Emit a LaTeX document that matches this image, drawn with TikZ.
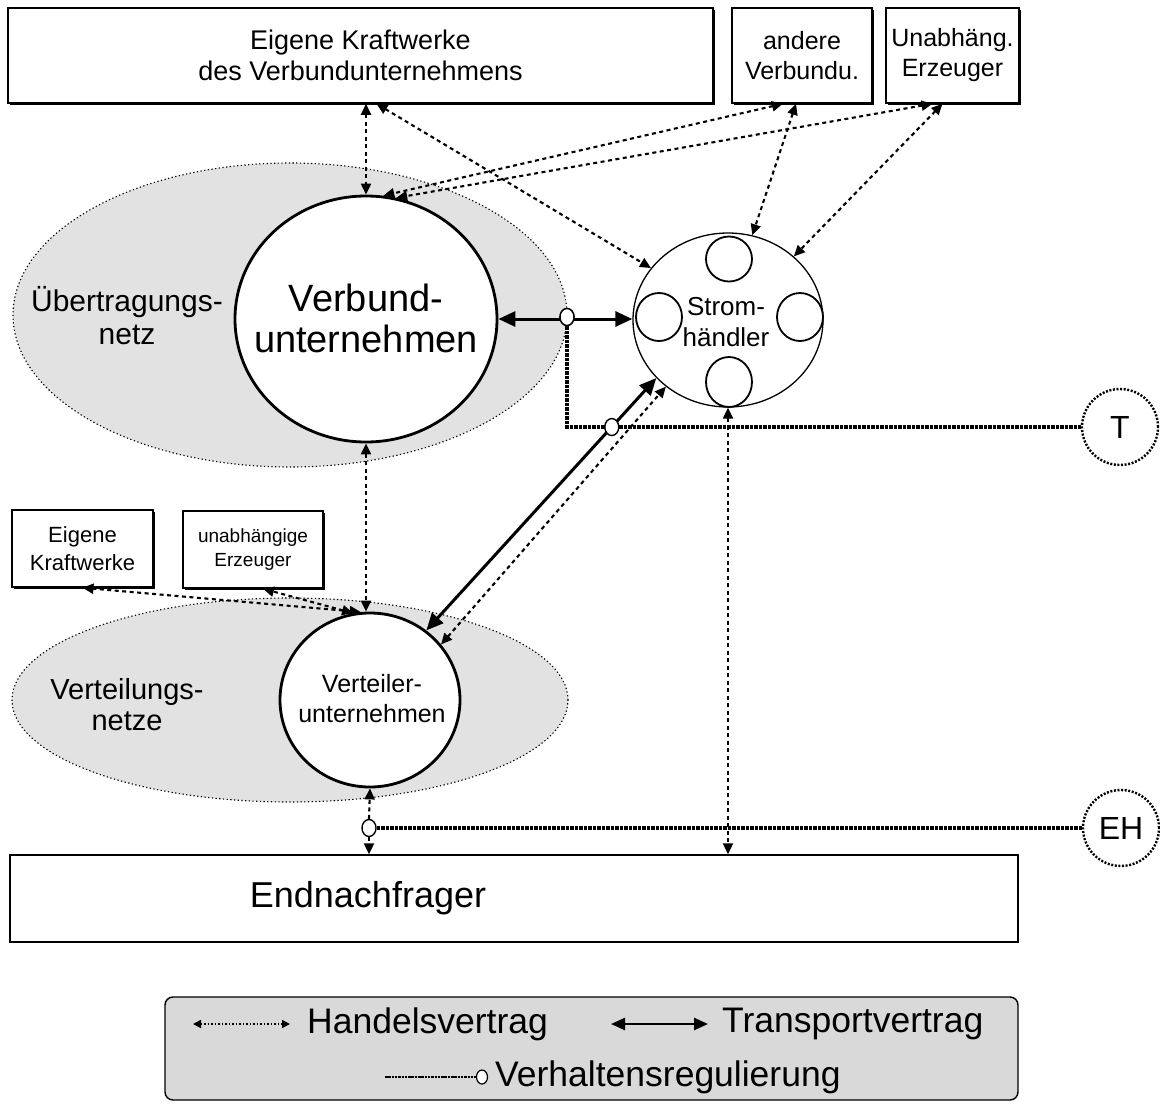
\documentclass[tikz,border=0pt]{standalone}
\usepackage{fontspec}
\setmainfont{Liberation Sans}
\usetikzlibrary{arrows.meta,shapes.geometric,shadows,calc}
\newcommand\fsz[2]{\fontsize{#1}{#2}\selectfont}
\definecolor{netzgray}{RGB}{226,226,226}
\definecolor{leggray}{RGB}{217,217,217}
\begin{document}
\begin{tikzpicture}[x=1pt,y=-1pt,
  boxnode/.style={draw,line width=1.5pt,fill=white,inner sep=0pt,align=center,
    drop shadow={shadow xshift=2pt,shadow yshift=-2pt,opacity=1,fill=black}},
  netz/.style={ellipse,fill=netzgray,draw,line width=1.1pt,dash pattern=on 1.3pt off 2.4pt,inner sep=0pt},
  bigcirc/.style={ellipse,draw,fill=white,line width=2.8pt,inner sep=0pt},
  smallell/.style={ellipse,draw,line width=1.8pt,inner sep=0pt,minimum width=46pt},
  regcirc/.style={circle,draw,fill=white,line width=2.4pt,dash pattern=on 2pt off 1.6pt,inner sep=0pt,minimum size=76pt},
  regdot/.style={ellipse,draw,fill=white,line width=1.4pt,inner sep=0pt,minimum width=14pt,minimum height=17pt},
  handel/.style={line width=2.1pt,dash pattern=on 4pt off 3.5pt,
    {Triangle[length=11pt,width=10pt]}-{Triangle[length=11pt,width=10pt]}},
  handelone/.style={line width=2.1pt,dash pattern=on 4pt off 3.5pt,-{Triangle[length=11pt,width=10pt]}},
  transport/.style={line width=3pt,{Triangle[length=17pt,width=15pt]}-{Triangle[length=17pt,width=15pt]}},
  reg/.style={line width=3.2pt,dash pattern=on 3.5pt off 1pt},
  lbl/.style={inner sep=0pt,align=center}
]
\useasboundingbox (0,0) rectangle (1160,1111);

% network areas
\node[netz,minimum width=554pt,minimum height=304pt] (ueb) at (290,315) {};
\node[netz,minimum width=556pt,minimum height=204pt] (vnetz) at (290,700) {};

% top boxes
\node[boxnode,minimum width=705pt,minimum height=95pt,font=\fsz{27}{31}] (big) at (360.5,55.5)
  {Eigene Kraftwerke\\des Verbundunternehmens};
\node[boxnode,minimum width=140pt,minimum height=95pt,font=\fsz{25}{30}] (andere) at (802,55.5)
  {andere\\Verbundu.};
\node[boxnode,minimum width=133pt,minimum height=95pt,font=\fsz{25}{30}] (unab) at (952.5,55.5)
  {Unabhäng.\\Erzeuger};

% Verbundunternehmen
\node[bigcirc,minimum width=262pt,minimum height=246pt] (verb) at (366,319) {};
\node[lbl,font=\fsz{38}{41}] (verbtxt) at (366,318) {Verbund-\\unternehmen};
\node[lbl,font=\fsz{30}{33}] (uebtxt) at (127,316) {Übertragungs-\\netz};

% Stromhaendler
\node[ellipse,draw,fill=white,line width=1.3pt,inner sep=0pt,minimum width=190pt,minimum height=174pt] (strom) at (728,320) {};
\node[smallell,minimum height=45pt] (stn) at (729,259) {};
\node[smallell,minimum height=50pt] (sts) at (729,382) {};
\node[smallell,minimum height=48pt] (stw) at (659,317) {};
\node[smallell,minimum height=48pt] (ste) at (800,317) {};
\node[lbl,font=\fsz{26}{31}] (stromtxt) at (726,322) {Strom-\\händler};

% lower boxes
\node[boxnode,minimum width=141pt,minimum height=77pt,font=\fsz{22}{28}] (ek) at (82.5,548.5)
  {Eigene\\Kraftwerke};
\node[boxnode,minimum width=140pt,minimum height=77pt,font=\fsz{19}{24}] (ue) at (253,549.5)
  {unabhängige\\Erzeuger};

% Verteilerunternehmen
\node[bigcirc,minimum width=180pt,minimum height=174pt] (vt) at (370,700) {};
\node[lbl,font=\fsz{25}{30}] (vttxt) at (372,699) {Verteiler-\\unternehmen};
\node[lbl,font=\fsz{29}{31}] (vnetztxt) at (127,705) {Verteilungs-\\netze};

% Endnachfrager
\node[draw,line width=1.4pt,fill=white,inner sep=0pt,minimum width=1008pt,minimum height=87pt] (end) at (514,898.5) {};
\node[lbl,font=\fsz{36}{40}] (endtxt) at (368,898) {Endnachfrager};

% regulation circles
\node[regcirc,font=\fsz{32}{36}] (T) at (1120,427) {T};
\node[regcirc,font=\fsz{32}{36}] (EH) at (1121,828) {EH};

% Handelsvertrag connectors
\draw[handel] (big.south -| verb.north) -- (verb.north);
\draw[handel] ([xshift=16pt]big.south) -- (strom.146);
\draw[handel] ([xshift=-19pt]andere.south) -- (verb.82);
\draw[handel] ([xshift=-20pt]unab.south) -- (verb.76);
\draw[handel] ([xshift=-6pt]andere.south) -- (strom.74);
\draw[handel] ([xshift=-10pt]unab.south) -- (strom.44);
\draw[handel] (strom.south) -- (end.north -| strom.south);
\draw[handel] (verb.south) -- (verb.south |- vt.north);
\draw[handel] (vt.96) -- (ek.south);
\draw[handel] (vt.101) -- ([xshift=10pt]ue.south);
\draw[handel] (vt.38) -- (strom.227);

% Transportvertrag connectors
\draw[transport] (verb.east) -- (verb.east -| strom.west);
\draw[transport] (vt.51) -- (strom.219.6);

% regulation
\node[regdot] (c1) at (567,317) {};
\coordinate (kT) at (567,427);
\coordinate (c2pos) at (intersection of vt.51--strom.219.6 and kT--T.west);
\node[regdot] (c3) at (369,828) {};
\draw[reg] (c1.south) -- (kT) -- (T.west);
\draw[reg] (c3.east) -- (EH.west);
\node[regdot] (c2) at (c2pos) {};
\draw[handelone] (c3.north) -- (vt.south);
\draw[handelone] (c3.south) -- (c3.south |- end.north);
\node[regdot] (c1b) at (567,317) {};

% legend
\node[draw,line width=1.4pt,fill=leggray,rounded corners=8pt,minimum width=853pt,minimum height=103pt,inner sep=0pt] (legend) at (591.5,1048.5) {};
\coordinate (lh1) at (193,1024);
\coordinate (lh2) at (290,1024);
\draw[line width=1.6pt,dash pattern=on 1.5pt off 2pt,{Triangle[length=8pt,width=8pt]}-{Triangle[length=8pt,width=8pt]}] (lh1) -- (lh2);
\node[inner sep=0pt,anchor=west,font=\fsz{35.5}{40}] (lhtxt) at (307,1024) {Handelsvertrag};
\coordinate (lt1) at (611,1024);
\coordinate (lt2) at (708,1024);
\draw[line width=2.4pt,{Triangle[length=14pt,width=12pt]}-{Triangle[length=14pt,width=12pt]}] (lt1) -- (lt2);
\node[inner sep=0pt,anchor=west,font=\fsz{35.5}{40}] (lttxt) at (722,1024) {Transportvertrag};
\coordinate (lr1) at (385,1077);
\node[ellipse,draw,fill=white,line width=1.2pt,inner sep=0pt,minimum width=11pt,minimum height=14pt] (lrc) at (482,1077) {};
\draw[line width=2.4pt,dash pattern=on 2.5pt off 0.8pt] (lr1) -- (lrc.west);
\node[inner sep=0pt,anchor=west,font=\fsz{35.5}{40}] (lrtxt) at (495,1077) {Verhaltensregulierung};
\end{tikzpicture}
\end{document}
